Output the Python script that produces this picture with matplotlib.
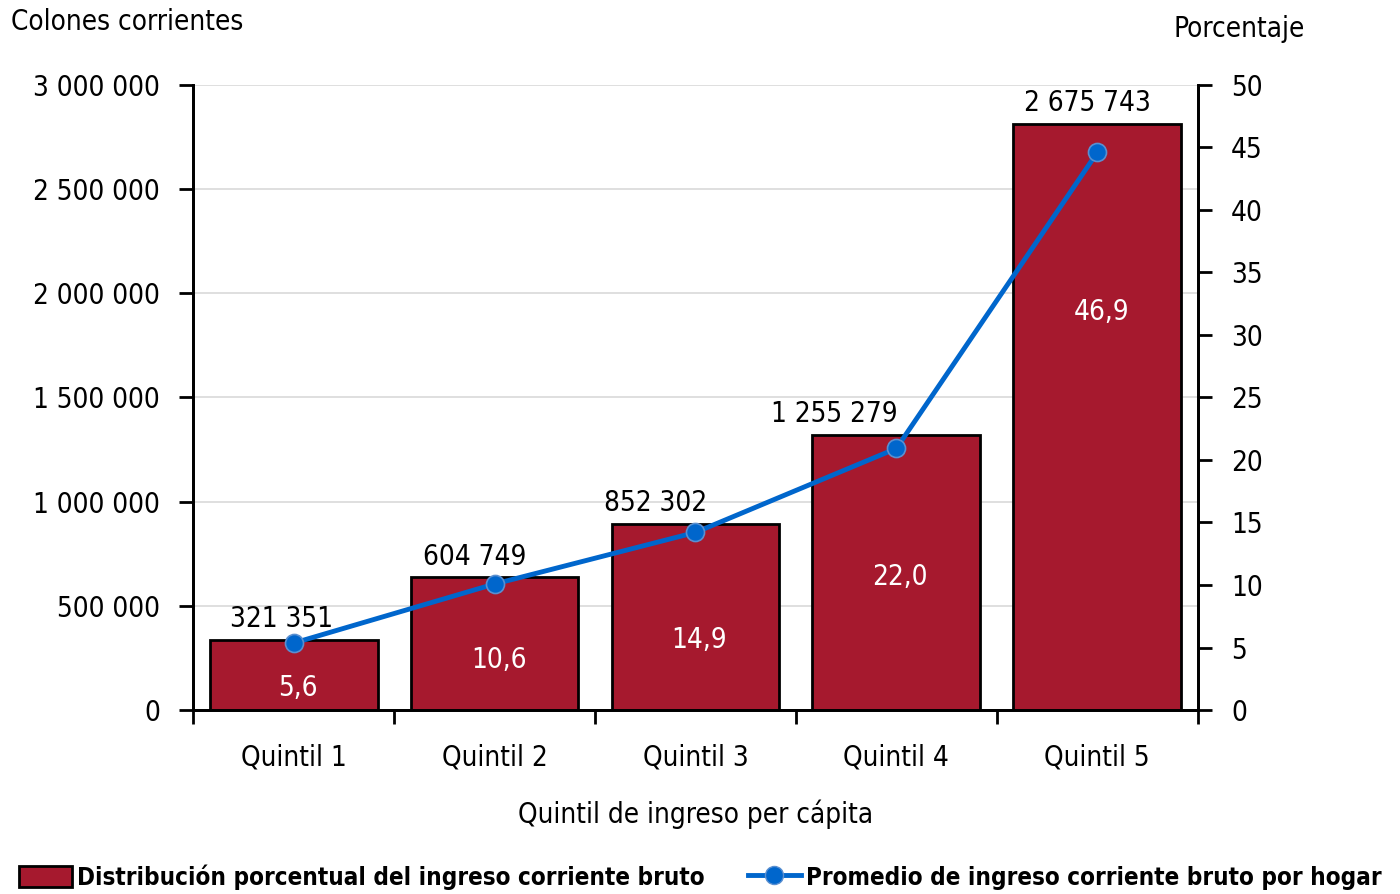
import matplotlib
matplotlib.use('Agg')
import matplotlib.pyplot as plt
from matplotlib import font_manager as fm
from matplotlib.lines import Line2D
from matplotlib.patches import Patch
import numpy as np

# look for a narrow font, fall back to Open Sans at a smaller size
narrow = [f for f in fm.fontManager.ttflist
          if f.stretch in ('condensed', 'semi-condensed', 'extra-condensed')
          or 'Narrow' in f.name or 'Condensed' in f.name]
if narrow:
    fam = narrow[0].name
    plt.rcParams['font.stretch'] = narrow[0].stretch
    fs, fs_leg = 20, 17.4
else:
    fam = 'Open Sans'
    fs, fs_leg = 18, 15
plt.rcParams['font.family'] = [fam, 'DejaVu Sans']

quintiles = ['Quintil 1', 'Quintil 2', 'Quintil 3', 'Quintil 4', 'Quintil 5']
share_pct = [5.6, 10.6, 14.9, 22.0, 46.9]
avg_income = [321351, 604749, 852302, 1255279, 2675743]
# where the white % labels sit (percent units)
pct_label_y = [1.8, 4.0, 5.6, 10.6, 31.8]
# horizontal shift of the income labels (category units)
inc_label_dx = [-0.06, -0.1, -0.2, -0.31, -0.05]

bar_color = '#A6192E'
line_color = '#0066CC'


def fmt_sp(v):
    return '{:,}'.format(v).replace(',', ' ')


fig = plt.figure(figsize=(14, 8.94), dpi=100)
ax = fig.add_axes([0.138, 0.2058, 0.7175, 0.6992])
ax2 = ax.twinx()

x = np.arange(len(quintiles))

# bars on the right axis (percent)
ax2.bar(x, share_pct, width=0.835, color=bar_color, edgecolor='black', linewidth=2, zorder=2)
for i, v in enumerate(share_pct):
    ax2.text(x[i] + 0.02, pct_label_y[i], ('%.1f' % v).replace('.', ','), color='white',
             ha='center', va='center', fontsize=fs, zorder=4)

# income line belongs to the left axis; drawn on ax2 rescaled so it sits above the bars
scale = 50.0 / 3000000
ax2.plot(x, np.array(avg_income) * scale, '-', color=line_color, linewidth=3.5,
         marker='o', markersize=13, markerfacecolor=line_color, markeredgecolor='#5A8FD0',
         markeredgewidth=1.2, zorder=5)
for i, v in enumerate(avg_income):
    ax2.annotate(fmt_sp(v), (x[i] + inc_label_dx[i], share_pct[i]), xytext=(0, 5),
                 textcoords='offset points', ha='center', va='bottom', fontsize=fs, zorder=4)

ax.set_xlim(-0.5, 4.5)
ax.set_ylim(0, 3000000)
ax2.set_ylim(0, 50)
ax.set_yticks(np.arange(0, 3000001, 500000))
ax.set_yticklabels([fmt_sp(v) for v in np.arange(0, 3000001, 500000)], fontsize=fs)
ax2.set_yticks(np.arange(0, 51, 5))
ax2.set_yticklabels([str(v) for v in range(0, 51, 5)], fontsize=fs)

ax.yaxis.grid(True, color='#D9D9D9', linewidth=1.2)
ax.set_axisbelow(True)

ax.set_xticks(x)
ax.set_xticklabels(quintiles, fontsize=fs)
ax.tick_params(axis='x', length=0, pad=24)
ax.set_xticks(np.arange(-0.5, 4.6, 1), minor=True)
ax.tick_params(axis='x', which='minor', length=10, width=2, direction='out')
ax.tick_params(axis='y', length=10, width=2, direction='out', pad=14)
ax2.tick_params(axis='y', length=10, width=2, direction='out', pad=14)

for a in (ax, ax2):
    a.spines['top'].set_visible(False)
    for s in ('left', 'right', 'bottom'):
        a.spines[s].set_linewidth(2)

ax.set_xlabel('Quintil de ingreso per cápita', fontsize=fs, labelpad=20)

fig.text(0.008, 0.975, 'Colones corrientes', fontsize=fs, ha='left', va='center')
fig.text(0.932, 0.968, 'Porcentaje', fontsize=fs, ha='right', va='center')

handles = [Patch(facecolor=bar_color, edgecolor='black', linewidth=2),
           Line2D([0], [0], color=line_color, linewidth=3.5, marker='o', markersize=13,
                  markerfacecolor=line_color, markeredgecolor='#5A8FD0')]
labels = ['Distribución porcentual del ingreso corriente bruto',
          'Promedio de ingreso corriente bruto por hogar']
fig.legend(handles, labels, loc='center', bbox_to_anchor=(0.5, 0.019), ncol=2, frameon=False,
           prop={'size': fs_leg, 'weight': 'bold'}, handlelength=2.2, handleheight=1.0,
           handletextpad=0.2, columnspacing=1.8, borderaxespad=0)

fig.savefig('out.png', dpi=100)
